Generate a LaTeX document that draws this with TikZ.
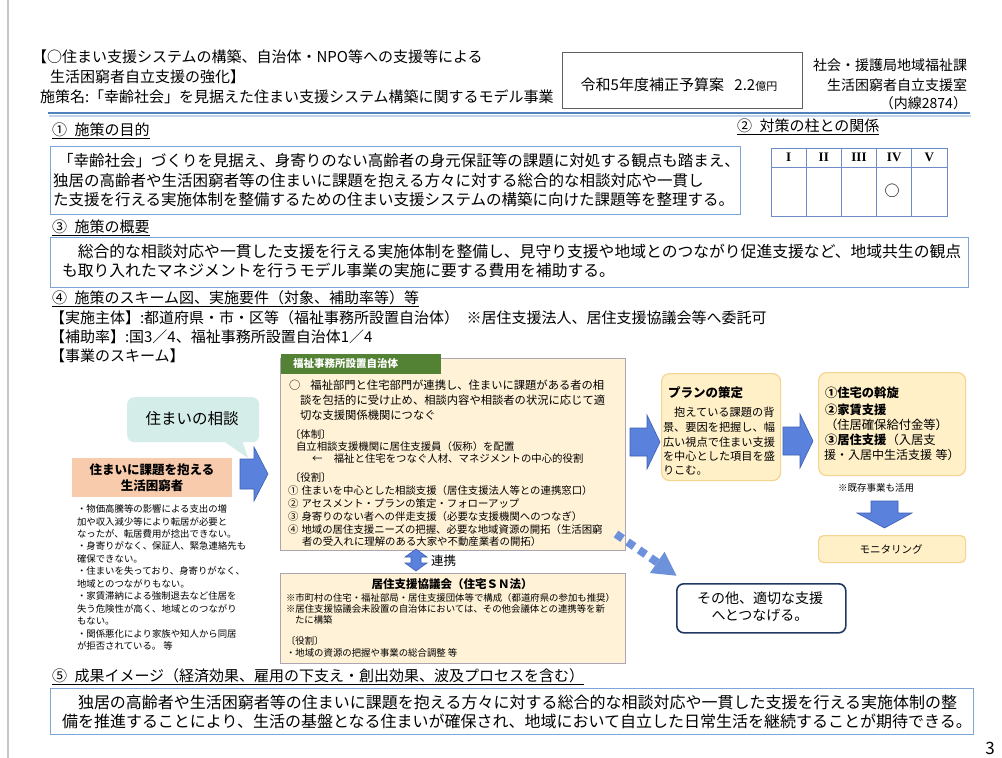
\documentclass[tikz,border=0pt]{standalone}
\usepackage{fontspec}
\setmainfont{Noto Sans CJK JP}
\newfontfamily\romanfont{Liberation Serif}
\usetikzlibrary{arrows.meta}
\definecolor{hdrblue}{RGB}{79,129,189}
\definecolor{boxblue}{RGB}{125,165,215}
\definecolor{tblblue}{RGB}{110,140,200}
\definecolor{greenhdr}{RGB}{84,130,53}
\definecolor{paleyel}{RGB}{255,242,214}
\definecolor{mainborder}{RGB}{170,165,178}
\definecolor{orangefill}{RGB}{248,203,173}
\definecolor{tealfill}{RGB}{213,237,232}
\definecolor{arrowblue}{RGB}{90,130,220}
\definecolor{arrowedge}{RGB}{60,95,180}
\definecolor{planfill}{RGB}{255,240,200}
\definecolor{planedge}{RGB}{245,212,145}
\definecolor{navy}{RGB}{31,56,100}
\definecolor{dotblue}{RGB}{110,145,220}
\newcommand{\FSz}[1]{\fontsize{#1pt}{#1pt}\selectfont}
\newcommand{\BArrowR}[7]{%
 \filldraw[#7] (#1,{#3-#4}) -- ({#2-#6},{#3-#4}) -- ({#2-#6},{#3-#5}) -- (#2,#3) -- ({#2-#6},{#3+#5}) -- ({#2-#6},{#3+#4}) -- (#1,{#3+#4}) -- cycle;}
\begin{document}
\begin{tikzpicture}[x=1pt,y=-1pt,
  txt/.style={anchor=west,inner sep=0pt,outer sep=0pt},
  rtxt/.style={anchor=east,inner sep=0pt,outer sep=0pt},
  ctxt/.style={anchor=center,inner sep=0pt,outer sep=0pt},
  framebox/.style={draw=boxblue,line width=0.9pt,anchor=north west,inner sep=0pt},
  yelbox/.style={draw=mainborder,fill=paleyel,line width=1.3pt,anchor=north west,inner sep=0pt},
  planbox/.style={draw=planedge,fill=planfill,line width=1.2pt,rounded corners=8pt,anchor=north west,inner sep=0pt},
  barrow/.style={fill=arrowblue,draw=arrowedge,line width=0.6pt},
  dotarrow/.style={draw=dotblue,line width=8pt,dash pattern=on 8pt off 6pt,-{Triangle[length=24pt,width=24pt]}},
]
\useasboundingbox (0,0) rectangle (1002,758);
\fill[white] (0,0) rectangle (1002,758);
\draw[gray!45,line width=1.5pt] (8,0) -- (8,758);

% title
\node[txt] (ttl1) at (32,57) {\FSz{15}【○住まい支援システムの構築、自治体・NPO等への支援等による};
\node[txt] (ttl2) at (50,77) {\FSz{15}生活困窮者自立支援の強化】};
\node[txt] (ttl3) at (40,97) {\FSz{15}施策名:「幸齢社会」を見据えた住まい支援システム構築に関するモデル事業};
\node[draw=gray!75!black,line width=0.8pt,minimum width=240pt,minimum height=56pt,anchor=north west,inner sep=0pt] (budget) at (562,52) {};
\node[ctxt] (budgett) at (679,85) {\FSz{15}令和5年度補正予算案\hspace{0.7em}2.2{\FSz{11}億円}};
\node[rtxt] (org1) at (967,65) {\FSz{14}社会・援護局地域福祉課};
\node[rtxt] (org2) at (967,85) {\FSz{14}生活困窮者自立支援室};
\node[rtxt] (org3) at (967,103) {\FSz{14}（内線2874）};
\draw[hdrblue!35,line width=1.5pt] (49,116) -- (971,116);
\draw[hdrblue,line width=2.5pt] (48,113) -- (970,113);

% headings
\node[txt] (h1) at (52,131) {\FSz{15}\underline{①\hspace{0.5em}施策の目的}};
\node[txt] (h2) at (737,127) {\FSz{15}\underline{②\hspace{0.5em}対策の柱との関係}};
\node[txt] (h3) at (52,228) {\FSz{15}\underline{③\hspace{0.5em}施策の概要}};
\node[txt] (h4) at (52,299) {\FSz{15}\underline{④\hspace{0.5em}施策のスキーム図、実施要件（対象、補助率等）等}};
\node[txt] (h5) at (52,677) {\FSz{15}\underline{⑤\hspace{0.5em}成果イメージ（経済効果、雇用の下支え・創出効果、波及プロセスを含む）}};

% box 1
\node[framebox,minimum width=690pt,minimum height=68pt] (b1) at (50,146) {};
\node[txt] (b1l1) at (58,161) {\FSz{15.5}「幸齢社会」づくりを見据え、身寄りのない高齢者の身元保証等の課題に対処する観点も踏まえ、};
\node[txt] (b1l2) at (53,181) {\FSz{15.5}独居の高齢者や生活困窮者等の住まいに課題を抱える方々に対する総合的な相談対応や一貫し};
\node[txt] (b1l3) at (53,200) {\FSz{15.5}た支援を行える実施体制を整備するための住まい支援システムの構築に向けた課題等を整理する。};

% table
\draw[tblblue,line width=1pt] (771,148) rectangle (947,216);
\draw[tblblue,line width=1pt] (771,167) -- (947,167);
\foreach \xx in {806.2,841.4,876.6,911.8} \draw[tblblue,line width=1pt] (\xx,148) -- (\xx,216);
\node[ctxt] (c1) at (788.6,157.5) {\romanfont\bfseries\FSz{13}I};
\node[ctxt] (c2) at (823.8,157.5) {\romanfont\bfseries\FSz{13}II};
\node[ctxt] (c3) at (859,157.5) {\romanfont\bfseries\FSz{13}III};
\node[ctxt] (c4) at (894.2,157.5) {\romanfont\bfseries\FSz{13}IV};
\node[ctxt] (c5) at (929.4,157.5) {\romanfont\bfseries\FSz{13}V};
\node[ctxt] (mark) at (892,191) {\FSz{15}○};

% box 3
\node[framebox,minimum width=918pt,minimum height=50pt] (b3) at (50,237) {};
\node[txt] (b3l1) at (62,251) {\FSz{15.8}\hspace{1em}総合的な相談対応や一貫した支援を行える実施体制を整備し、見守り支援や地域とのつながり促進支援など、地域共生の観点};
\node[txt] (b3l2) at (62,270) {\FSz{15.8}も取り入れたマネジメントを行うモデル事業の実施に要する費用を補助する。};

% section 4 text
\node[txt] (imp1) at (50,318) {\FSz{15}【実施主体】:都道府県・市・区等（福祉事務所設置自治体）\hspace{0.5em}※居住支援法人、居住支援協議会等へ委託可};
\node[txt] (imp2) at (50,337) {\FSz{15}【補助率】:国3／4、福祉事務所設置自治体1／4};
\node[txt] (imp3) at (50,356) {\FSz{15}【事業のスキーム】};

% main box
\node[yelbox,minimum width=345pt,minimum height=192pt] (main) at (280,358) {};
\node[fill=greenhdr,minimum width=160pt,minimum height=20pt,anchor=north west,inner sep=0pt] (ghdr) at (281,354) {};
\node[txt,text=white] (ghdrt) at (293,364) {\FSz{10.5}\bfseries 福祉事務所設置自治体};
\node[txt] (m1) at (289,385) {\FSz{11.3}○\hspace{0.9em}福祉部門と住宅部門が連携し、住まいに課題がある者の相};
\node[txt] (m2) at (300,400) {\FSz{11.3}談を包括的に受け止め、相談内容や相談者の状況に応じて適};
\node[txt] (m3) at (300,415) {\FSz{11.3}切な支援関係機関につなぐ};
\node[txt] (m4) at (290,435) {\FSz{10.4}〔体制〕};
\node[txt] (m5) at (296,447) {\FSz{10.4}自立相談支援機関に居住支援員（仮称）を配置};
\node[txt] (m6) at (312,459) {\FSz{10.4}←\hspace{1.1em}福祉と住宅をつなぐ人材、マネジメントの中心的役割};
\node[txt] (m7) at (290,478) {\FSz{10.4}〔役割〕};
\node[txt] (m8) at (288,491) {\FSz{10.4}①\hspace{0.3em}住まいを中心とした相談支援（居住支援法人等との連携窓口）};
\node[txt] (m9) at (288,504) {\FSz{10.4}②\hspace{0.3em}アセスメント・プランの策定・フォローアップ};
\node[txt] (m10) at (288,517) {\FSz{10.4}③\hspace{0.3em}身寄りのない者への伴走支援（必要な支援機関へのつなぎ）};
\node[txt] (m11) at (288,530) {\FSz{10.4}④\hspace{0.3em}地域の居住支援ニーズの把握、必要な地域資源の開拓（生活困窮};
\node[txt] (m12) at (302,542) {\FSz{10.4}者の受入れに理解のある大家や不動産業者の開拓）};

% link arrow
\filldraw[barrow] (416,549) -- (427,557) -- (421,557) -- (421,563) -- (427,563) -- (416,571) -- (405,563) -- (411,563) -- (411,557) -- (405,557) -- cycle;
\node[txt] (renkei) at (431,561) {\FSz{12.5}連携};

% lower box
\node[yelbox,minimum width=345pt,minimum height=90pt] (kyogi) at (280,573) {};
\node[ctxt] (kyogit) at (452,584) {\FSz{11.5}\bfseries 居住支援協議会（住宅ＳＮ法）};
\node[txt] (k1) at (286,598) {\FSz{9.4}※市町村の住宅・福祉部局・居住支援団体等で構成（都道府県の参加も推奨）};
\node[txt] (k2) at (286,609) {\FSz{9.4}※居住支援協議会未設置の自治体においては、その他会議体との連携等を新};
\node[txt] (k3) at (295,620) {\FSz{9.4}たに構築};
\node[txt] (k4) at (286,641) {\FSz{9.4}〔役割〕};
\node[txt] (k5) at (286,653) {\FSz{9.4}・地域の資源の把握や事業の総合調整 等};

% left side
\node[fill=tealfill,rounded corners=7pt,minimum width=132pt,minimum height=45pt,anchor=north west,inner sep=0pt] (soudan) at (127,397) {};
\fill[tealfill] (222,440) -- (242,440) -- (248,458) -- cycle;
\node[ctxt] (soudant) at (192,419) {\FSz{15.5}住まいの相談};
\node[fill=orangefill,minimum width=160pt,minimum height=39pt,anchor=north west,inner sep=0pt] (person) at (72,458) {};
\node[ctxt] (persont1) at (152,470) {\FSz{12.5}\bfseries 住まいに課題を抱える};
\node[ctxt] (persont2) at (152,486) {\FSz{12.5}\bfseries 生活困窮者};
\BArrowR{240}{268}{474}{15}{27}{14}{barrow}
\foreach \ln [count=\i] in {{・物価高騰等の影響による支出の増},{加や収入減少等により転居が必要と},{なったが、転居費用が捻出できない。},{・身寄りがなく、保証人、緊急連絡先も},{確保できない。},{・住まいを失っており、身寄りがなく、},{地域とのつながりもない。},{・家賃滞納による強制退去など住居を},{失う危険性が高く、地域とのつながり},{もない。},{・関係悪化により家族や知人から同居},{が拒否されている。 等}}
  {\node[txt] (bul\i) at (77,{509+12.45*(\i-1)}) {\FSz{9.4}\ln};}

% right side
\BArrowR{630}{660}{442}{14}{27}{13}{barrow}
\node[planbox,minimum width=119pt,minimum height=107pt] (plan) at (661,373) {};
\node[txt] (plant) at (668,393) {\FSz{12.5}\bfseries プランの策定};
\node[txt] (p1) at (663,412) {\FSz{11.2}\hspace{1em}抱えている課題の背};
\node[txt] (p2) at (663,427) {\FSz{11.2}景、要因を把握し、幅};
\node[txt] (p3) at (663,442) {\FSz{11.2}広い視点で住まい支援};
\node[txt] (p4) at (663,456) {\FSz{11.2}を中心とした項目を盛};
\node[txt] (p5) at (663,470) {\FSz{11.2}りこむ。};
\BArrowR{783}{813}{441}{14}{27}{13}{barrow}
\node[planbox,minimum width=147pt,minimum height=103pt] (svc) at (818,372) {};
\node[txt] (s1) at (825,393) {\FSz{12.3}\bfseries ①住宅の斡旋};
\node[txt] (s2) at (825,410) {\FSz{12.3}\bfseries ②家賃支援};
\node[txt] (s3) at (825,425) {\FSz{12.3}（住居確保給付金等）};
\node[txt] (s4) at (825,440) {\FSz{12.3}{\bfseries ③居住支援}（入居支};
\node[txt] (s5) at (824,455) {\FSz{12}援・入居中生活支援\hspace{0.3em}等）};
\node[ctxt] (kizon) at (876,488) {\FSz{9.5}※既存事業も活用};
\filldraw[barrow] (871,501) -- (898,501) -- (898,513) -- (912,513) -- (884.5,528) -- (857,513) -- (871,513) -- cycle;
\node[planbox,rounded corners=5pt,minimum width=147pt,minimum height=27pt] (mon) at (818,535) {};
\node[ctxt] (mont) at (891,549) {\FSz{10.5}モニタリング};
\node[draw=navy,line width=1.6pt,fill=white,rounded corners=7pt,minimum width=169pt,minimum height=49pt,anchor=north west,inner sep=0pt] (sonota) at (676,583) {};
\node[ctxt] (sonota1) at (760,598) {\FSz{14}その他、適切な支援};
\node[ctxt] (sonota2) at (760,615) {\FSz{14}へとつなげる。};
\coordinate (dstart) at (616,534);
\draw[dotarrow] (dstart) -- ([shift={(1,-7)}]sonota.north west);

% box 5
\node[framebox,minimum width=923pt,minimum height=46pt] (b5) at (50,688) {};
\node[txt] (b5l1) at (62,702) {\FSz{16}\hspace{1em}独居の高齢者や生活困窮者等の住まいに課題を抱える方々に対する総合的な相談対応や一貫した支援を行える実施体制の整};
\node[txt] (b5l2) at (62,721) {\FSz{16}備を推進することにより、生活の基盤となる住まいが確保され、地域において自立した日常生活を継続することが期待できる。};
\node[ctxt] (pnum) at (990,748) {\FSz{17}3};
\end{tikzpicture}
\end{document}
